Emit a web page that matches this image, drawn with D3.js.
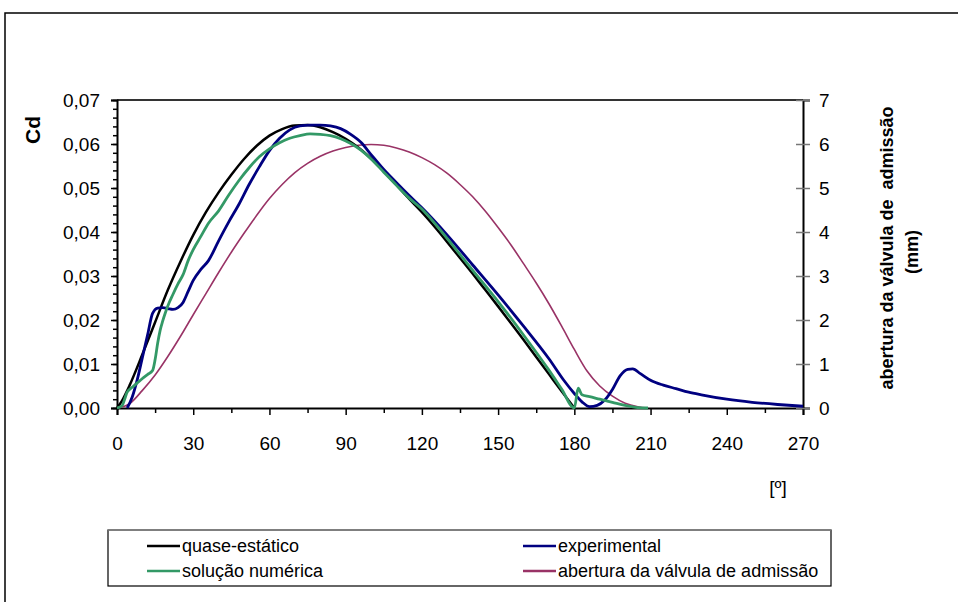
<!DOCTYPE html>
<html>
<head>
<meta charset="utf-8">
<script src="https://cdn.jsdelivr.net/npm/d3@7"></script>
<style>
  html, body { margin: 0; padding: 0; background: #fff; }
  svg { display: block; font-family: "Liberation Sans", Arial, sans-serif; }
</style>
</head>
<body>
<svg id="chart" width="958" height="602"></svg>
<script>
// Crank angle [º] and discharge coefficient Cd — quasi-static model
const quaseAng = [0,2,5,10,15,20,25,30,35,40,45,50,55,60,65,70,75,80,85,90,95,100,105,110,115,120,125,130,135,140,145,150,155,160,165,170,175,180];
const quaseCd  = [0,0.0017,0.0052,0.0122,0.0195,0.0268,0.0333,0.0393,0.0445,0.049,0.053,0.0566,0.0596,0.0619,0.0634,0.0642,0.0643,0.0638,0.0627,0.0612,0.0592,0.0567,0.0538,0.0507,0.0475,0.0445,0.0412,0.0377,0.0341,0.0305,0.0268,0.0231,0.0193,0.0155,0.0116,0.0077,0.0038,0];

// Experimental Cd
const expAng = [4,6,8,10,12,14,16,18,20,22,24,26,28,30,33,36,40,44,48,52,56,60,64,68,72,76,80,84,88,92,96,100,105,110,115,120,130,140,150,160,170,176,180,183,186,189,192,195,198,201,203,206,210,215,220,225,230,240,250,260,270];
const expCd  = [0,0.0025,0.0065,0.0115,0.0165,0.0215,0.0227,0.0228,0.0226,0.0224,0.0228,0.024,0.0265,0.029,0.0315,0.0335,0.038,0.0423,0.0463,0.0508,0.0548,0.0585,0.0613,0.0632,0.0641,0.0643,0.0643,0.0641,0.0635,0.0622,0.0604,0.0576,0.0542,0.0512,0.0483,0.0455,0.0393,0.0325,0.0257,0.0186,0.0112,0.0062,0.0033,0.0014,0.0003,0.0006,0.0018,0.0042,0.0073,0.0088,0.0089,0.0078,0.0063,0.0052,0.0044,0.0036,0.003,0.002,0.0013,0.0008,0.0004];

// Numerical solution Cd
const numAng = [0,2,3,4,6,8,10,12,14,15,16,17,18,19,20,22,24,26,28,30,33,36,40,44,48,52,56,60,64,68,72,76,80,84,88,92,96,100,105,110,115,120,125,130,140,150,160,170,175,180,181.5,183,186,190,195,200,205,209];
const numCd  = [0,0.0005,0.002,0.0036,0.0047,0.0057,0.0067,0.0076,0.0085,0.011,0.0147,0.0177,0.0198,0.0216,0.0232,0.0258,0.0282,0.0303,0.0335,0.036,0.039,0.042,0.0448,0.0484,0.0517,0.0546,0.0571,0.0589,0.0603,0.0613,0.0619,0.0623,0.0622,0.0619,0.0612,0.0601,0.0586,0.0566,0.0536,0.0506,0.0477,0.0452,0.042,0.0385,0.0313,0.0242,0.0166,0.0086,0.0043,0,0.0045,0.003,0.0026,0.002,0.0013,0.0006,0.0001,0];

// Intake valve lift [mm] (right axis)
const valvAng = [0,5,10,15,20,25,30,35,40,45,50,55,60,65,70,75,80,85,90,95,100,105,110,115,120,125,130,135,140,145,150,155,160,165,170,175,180,185,190,195,200,205,209];
const valvMm  = [0,0.1,0.4,0.75,1.17,1.63,2.12,2.6,3.08,3.54,3.97,4.38,4.76,5.08,5.35,5.56,5.72,5.84,5.92,5.97,5.99,5.97,5.91,5.82,5.69,5.53,5.33,5.08,4.8,4.47,4.1,3.71,3.28,2.84,2.37,1.86,1.33,0.84,0.5,0.27,0.11,0.03,0];

const xTicks = [0,30,60,90,120,150,180,210,240,270];
const yLeftTicks = [0,0.01,0.02,0.03,0.04,0.05,0.06,0.07];
const yRightTicks = [0,1,2,3,4,5,6,7];

const seriesNames = ["quase-estático", "experimental", "solução numérica", "abertura da válvula de admissão"];
const seriesColors = ["#000000", "#000080", "#339966", "#993366"];

const svg = d3.select("#chart");
const plot = { left: 117, right: 803, top: 100, bottom: 408 };

const x = d3.scaleLinear().domain([0, 270]).range([plot.left, plot.right]);
const yL = d3.scaleLinear().domain([0, 0.07]).range([plot.bottom, plot.top]);
const yR = d3.scaleLinear().domain([0, 7]).range([plot.bottom, plot.top]);

const fmtCd = v => d3.format(".2f")(v).replace(".", ",");

// outer chart frame (top and left edges)
svg.append("path")
  .attr("d", "M5,602 L5,13 L958,13")
  .attr("fill", "none").attr("stroke", "#000").attr("stroke-width", 1.5);

// top edge of the plot area
svg.append("line")
  .attr("x1", plot.left).attr("x2", plot.right)
  .attr("y1", plot.top).attr("y2", plot.top)
  .attr("stroke", "#333").attr("stroke-width", 2);

// left axis: minor ticks every 0.002, labelled majors every 0.01
const gL = svg.append("g").attr("transform", `translate(${plot.left},0)`);
gL.call(d3.axisLeft(yL).tickValues(d3.range(0, 0.0701, 0.002)).tickSize(4).tickFormat(""));
gL.call(g => g.select(".domain").remove());
const gL2 = svg.append("g").attr("transform", `translate(${plot.left},0)`);
gL2.call(d3.axisLeft(yL).tickValues(yLeftTicks).tickSize(6).tickPadding(11).tickFormat(fmtCd));
[gL, gL2].forEach(g => {
  g.selectAll(".tick line").attr("stroke", "#000").attr("stroke-width", 1.5);
});
gL2.select(".domain").attr("stroke", "#000").attr("stroke-width", 2);
gL2.selectAll(".tick text").attr("font-size", 19).attr("fill", "#000")
  .attr("font-family", "Liberation Sans, Arial, sans-serif");

// bottom axis: ticks every 15º, labels every 30º
const gB = svg.append("g").attr("transform", `translate(0,${plot.bottom})`);
gB.call(d3.axisBottom(x).tickValues(d3.range(15, 270, 30)).tickSize(5).tickFormat(""));
gB.call(g => g.select(".domain").remove());
const gB2 = svg.append("g").attr("transform", `translate(0,${plot.bottom})`);
gB2.call(d3.axisBottom(x).tickValues(xTicks).tickSize(7).tickPadding(22).tickFormat(d3.format("d")));
[gB, gB2].forEach(g => g.selectAll(".tick line").attr("stroke", "#000").attr("stroke-width", 1.5));
gB2.select(".domain").attr("stroke", "#000").attr("stroke-width", 2);
gB2.selectAll(".tick text").attr("font-size", 19).attr("fill", "#000")
  .attr("font-family", "Liberation Sans, Arial, sans-serif");

// right axis: valve lift in mm, ticks crossing the axis
const gR = svg.append("g").attr("transform", `translate(${plot.right},0)`);
gR.call(d3.axisRight(yR).tickValues(yRightTicks).tickSize(7).tickPadding(9).tickFormat(d3.format("d")));
gR.select(".domain").attr("stroke", "#000").attr("stroke-width", 2);
gR.selectAll(".tick line").attr("x1", -7).attr("stroke", "#777").attr("stroke-width", 1.5);
gR.selectAll(".tick text").attr("font-size", 19).attr("fill", "#000")
  .attr("font-family", "Liberation Sans, Arial, sans-serif");

// series
const line = (ang, val, scale) => d3.line()
  .x((d, i) => x(ang[i]))
  .y(d => scale(d))
  .curve(d3.curveMonotoneX)(val);

const plotG = svg.append("g");
plotG.append("path").attr("d", line(valvAng, valvMm, yR))
  .attr("fill", "none").attr("stroke", seriesColors[3]).attr("stroke-width", 1.6);
plotG.append("path").attr("d", line(quaseAng, quaseCd, yL))
  .attr("fill", "none").attr("stroke", seriesColors[0]).attr("stroke-width", 2.5);
plotG.append("path").attr("d", line(expAng, expCd, yL))
  .attr("fill", "none").attr("stroke", seriesColors[1]).attr("stroke-width", 2.8);
plotG.append("path").attr("d", line(numAng, numCd, yL))
  .attr("fill", "none").attr("stroke", seriesColors[2]).attr("stroke-width", 2.8);

// axis titles
svg.append("text")
  .attr("transform", "translate(40,130) rotate(-90)")
  .attr("text-anchor", "middle")
  .attr("font-size", 21).attr("font-weight", "bold")
  .text("Cd");

svg.append("text")
  .attr("transform", "translate(893,248) rotate(-90)")
  .attr("text-anchor", "middle")
  .attr("font-size", 18).attr("font-weight", "bold")
  .attr("xml:space", "preserve")
  .style("white-space", "pre")
  .text("abertura da válvula de  admissão");
svg.append("text")
  .attr("transform", "translate(918,252) rotate(-90)")
  .attr("text-anchor", "middle")
  .attr("font-size", 18).attr("font-weight", "bold")
  .text("(mm)");

svg.append("text")
  .attr("x", 778).attr("y", 494)
  .attr("text-anchor", "middle")
  .attr("font-size", 19)
  .text("[º]");

// legend
const lg = svg.append("g");
lg.append("rect")
  .attr("x", 108).attr("y", 530).attr("width", 723).attr("height", 56)
  .attr("fill", "#fff").attr("stroke", "#000").attr("stroke-width", 1.2);
lg.append("line").attr("x1", 108).attr("x2", 831).attr("y1", 530).attr("y2", 530)
  .attr("stroke", "#888").attr("stroke-width", 1.5);

const legendPos = [
  { lx: 147, y: 546 }, { lx: 523, y: 546 },
  { lx: 147, y: 571 }, { lx: 523, y: 571 }
];
seriesNames.forEach((name, i) => {
  const p = legendPos[i];
  lg.append("line")
    .attr("x1", p.lx).attr("x2", p.lx + 33)
    .attr("y1", p.y).attr("y2", p.y)
    .attr("stroke", seriesColors[i]).attr("stroke-width", 2.5);
  lg.append("text")
    .attr("x", p.lx + 35).attr("y", p.y + 6)
    .attr("font-size", 18)
    .text(name);
});
</script>
</body>
</html>
